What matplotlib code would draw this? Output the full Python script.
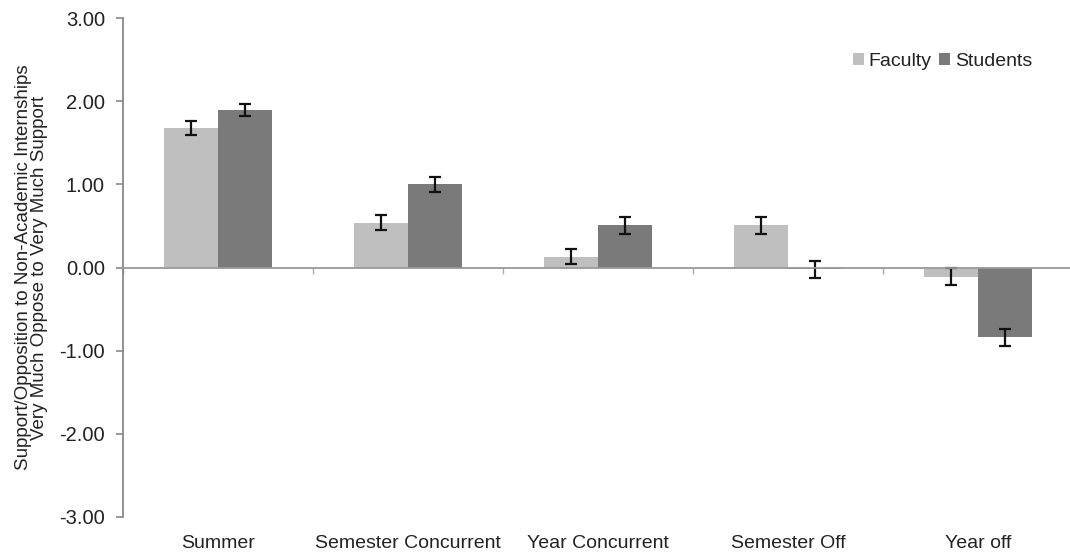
import matplotlib.pyplot as plt
import numpy as np

plt.rcParams['font.family'] = ['Liberation Sans', 'DejaVu Sans']

categories = ['Summer', 'Semester Concurrent', 'Year Concurrent', 'Semester Off', 'Year off']
faculty = [1.68, 0.54, 0.13, 0.51, -0.11]
students = [1.90, 1.00, 0.51, -0.02, -0.84]
faculty_err = [0.08, 0.09, 0.09, 0.10, 0.10]
students_err = [0.07, 0.09, 0.10, 0.10, 0.10]
yticks = [3, 2, 1, 0, -1, -2, -3]

fig = plt.figure(figsize=(10.7, 5.54), dpi=100)
ax = fig.add_axes([0.115, 0.067, 0.888, 0.9])

x = np.arange(len(categories))
width = 0.285
err_kw = dict(ecolor='#111111', elinewidth=1.6, capsize=4, capthick=1.6)
ax.bar(x - width/2, faculty, width, yerr=faculty_err, color='#bfbfbf', label='Faculty',
       error_kw=err_kw)
ax.bar(x + width/2, students, width, yerr=students_err, color='#7a7a7a', label='Students',
       error_kw=err_kw)

ax.set_xlim(-0.5, len(categories) - 0.5)
ax.set_ylim(-3, 3)
ax.set_yticks(yticks)
ax.set_yticklabels([f'{v:.2f}' for v in yticks], fontsize=14.5, color='#222222')
ax.tick_params(axis='y', direction='out', length=5, color='#888888', width=1.2, pad=8)

# x axis line at zero with small marks between categories
for s in ['top', 'right']:
    ax.spines[s].set_visible(False)
ax.spines['left'].set_color('#888888')
ax.spines['left'].set_linewidth(1.3)
ax.spines['bottom'].set_position(('data', 0))
ax.spines['bottom'].set_color('#999999')
ax.spines['bottom'].set_linewidth(1.3)
ax.set_xticks(np.arange(len(categories) + 1) - 0.5)
ax.set_xticklabels([])
ax.tick_params(axis='x', direction='out', length=4, color='#aaaaaa', width=1)

sec = ax.secondary_xaxis(0)
sec.set_xticks(x)
sec.set_xticklabels(categories, fontsize=14, color='#222222')
sec.tick_params(length=0, pad=13)
sec.spines['bottom'].set_visible(False)

ax.set_ylabel('Support/Opposition to Non-Academic Internships\nVery Much Oppose to Very Much Support',
              fontsize=13.5, color='#222222', labelpad=8, linespacing=0.95)

ax.legend(loc='upper right', bbox_to_anchor=(0.975, 0.965), ncol=2, frameon=False, fontsize=14,
          handlelength=0.55, handleheight=0.55, handletextpad=0.25, columnspacing=0.4,
          labelcolor='#222222')

fig.savefig('out.png', dpi=100)
